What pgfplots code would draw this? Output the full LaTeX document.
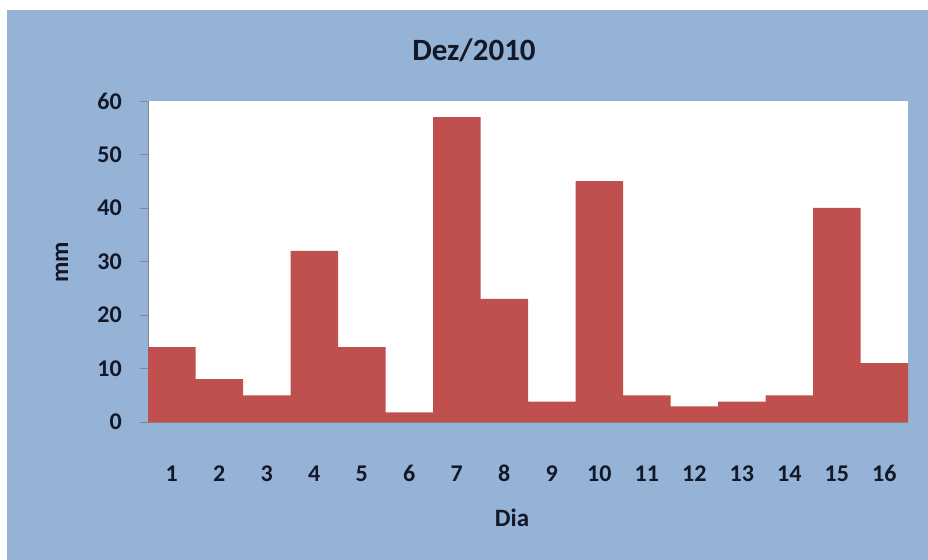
\documentclass[border=0pt]{standalone}
\usepackage{pgfplots}
\pgfplotsset{compat=1.18}
\usepackage{fontspec}
\setmainfont{Carlito}

\definecolor{bgblue}{HTML}{95B3D7}
\definecolor{barred}{HTML}{C0504D}
\definecolor{axgray}{HTML}{868686}
\definecolor{txt}{HTML}{141826}

\begin{document}
\begin{tikzpicture}
% page and chart background (1bp = 1px of the reference)
\fill[white] (-148bp,-138bp) rectangle (780bp,422bp);
\fill[bgblue] (-141bp,-138bp) rectangle (780bp,412bp);
\useasboundingbox (-148bp,-138bp) rectangle (780bp,422bp);

\begin{axis}[
    scale only axis,
    width=760bp, height=321bp,
    at={(0,0)}, anchor=south west,
    axis background/.style={fill=white},
    axis lines*=left,
    axis line style={draw=axgray, line width=0.8bp, -},
    xmin=0.5, xmax=16.5,
    ymin=0, ymax=60,
    ytick={0,10,...,60},
    xtick={1,...,16},
    major tick length=8bp,
    ytick style={draw=axgray, line width=0.8bp},
    xtick style={draw=none},
    tick align=outside,
    /pgf/number format/assume math mode=true,
    ticklabel style={font=\fontsize{24bp}{28bp}\selectfont\bfseries, text=txt, inner sep=0pt},
    yticklabel style={anchor=east, xshift=-18bp},
    xticklabel style={anchor=base, yshift=-51bp},
    ybar, bar width=1,
]
\addplot[fill=barred, draw=none] coordinates {
    (1,14) (2,8) (3,5) (4,32) (5,14) (6,1.8) (7,57) (8,23)
    (9,3.8) (10,45) (11,5) (12,2.9) (13,3.8) (14,5) (15,40) (16,11)
};
\end{axis}

\node[font=\fontsize{31bp}{35bp}\selectfont\bfseries, text=txt] at (326bp,372bp) {Dez/2010};
\node[font=\fontsize{25bp}{29bp}\selectfont\bfseries, text=txt] at (364bp,-96bp) {Dia};
\node[font=\fontsize{25bp}{29bp}\selectfont\bfseries, text=txt, rotate=90] at (-86bp,160bp) {mm};
\end{tikzpicture}
\end{document}
